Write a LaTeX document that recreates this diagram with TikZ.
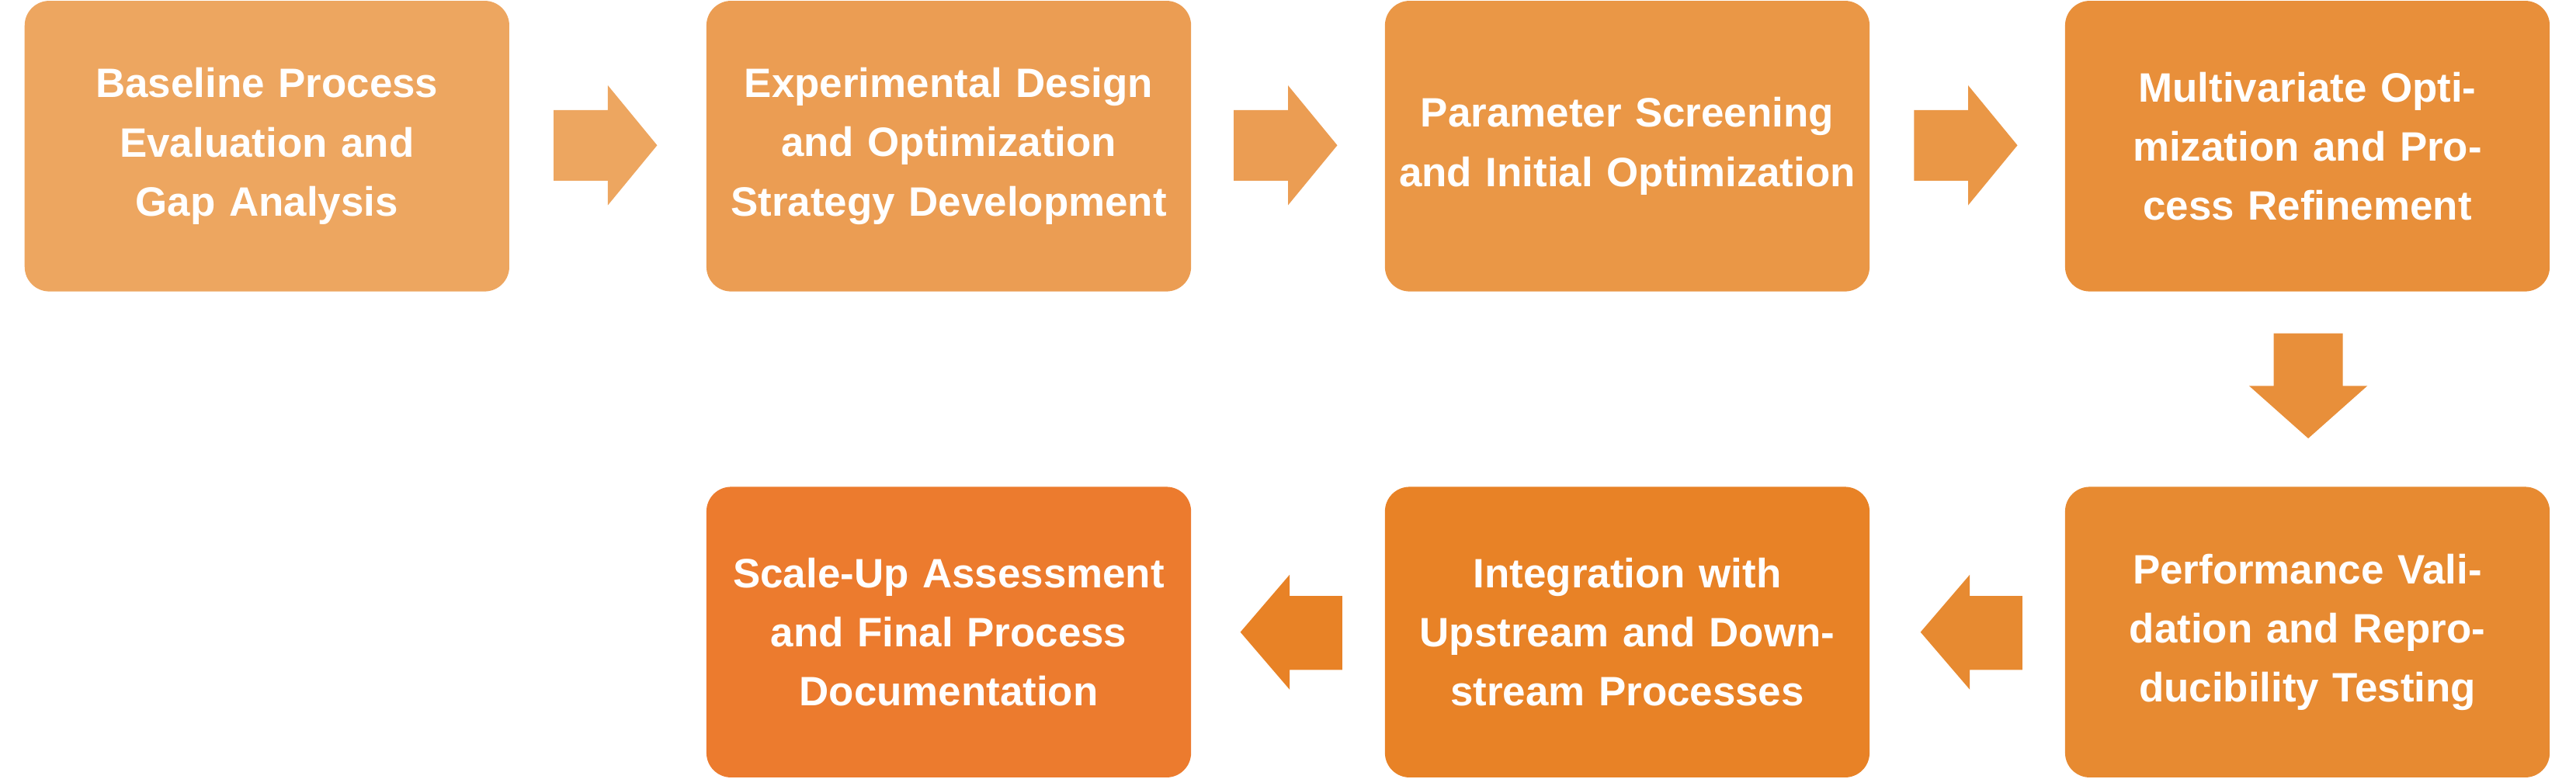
\documentclass[tikz,border=0pt]{standalone}
\usepackage{fontspec}
\setmainfont{Liberation Sans}
\definecolor{cA}{HTML}{EDA660}
\definecolor{cB}{HTML}{EB9D53}
\definecolor{cC}{HTML}{EA9746}
\definecolor{cD}{HTML}{E88F3A}
\definecolor{cE}{HTML}{E78A31}
\definecolor{cF}{HTML}{E88226}
\definecolor{cG}{HTML}{EC7B2E}
\tikzset{
  step/.style={fill=#1, rounded corners=15pt, minimum width=295pt, minimum height=177pt,
    text width=280pt, align=center, text=white, inner sep=0pt,
    font=\fontsize{25}{36}\selectfont\bfseries},
  flow/.style={fill=#1}
}
\begin{document}
\begin{tikzpicture}[x=1pt, y=-1pt]
\useasboundingbox (0,0) rectangle (1568,474);
\node[step=cA] (s1) at (162.5,89) {Baseline Process Evaluation and Gap Analysis};
\node[step=cB] (s2) at (577.5,89) {Experimental Design and Optimization Strategy Development};
\node[step=cC] (s3) at (990.5,89) {Parameter Screening and Initial Optimization};
\node[step=cD] (s4) at (1404.5,89) {Multivariate Optimization and Process Refinement};
\node[step=cE] (s5) at (1404.5,385) {Performance Validation and Reproducibility Testing};
\node[step=cF] (s6) at (990.5,385) {Integration with Upstream and Downstream Processes};
\node[step=cG] (s7) at (577.5,385) {Scale-Up Assessment and Final Process Documentation};
% right arrows
\foreach \x/\c in {337/cA, 751/cB, 1165/cC}
  \fill[flow=\c] (\x,67) -- (\x+33,67) -- (\x+33,52) -- (\x+63,88.5) -- (\x+33,125) -- (\x+33,110) -- (\x,110) -- cycle;
% down arrow
\fill[flow=cD] (1384,203) -- (1426,203) -- (1426,235) -- (1441,235) -- (1405,267) -- (1369,235) -- (1384,235) -- cycle;
% left arrows
\foreach \x/\c in {1231/cE, 817/cF}
  \fill[flow=\c] (\x,363) -- (\x-32,363) -- (\x-32,350) -- (\x-62,385) -- (\x-32,420) -- (\x-32,408) -- (\x,408) -- cycle;
\end{tikzpicture}
\end{document}
